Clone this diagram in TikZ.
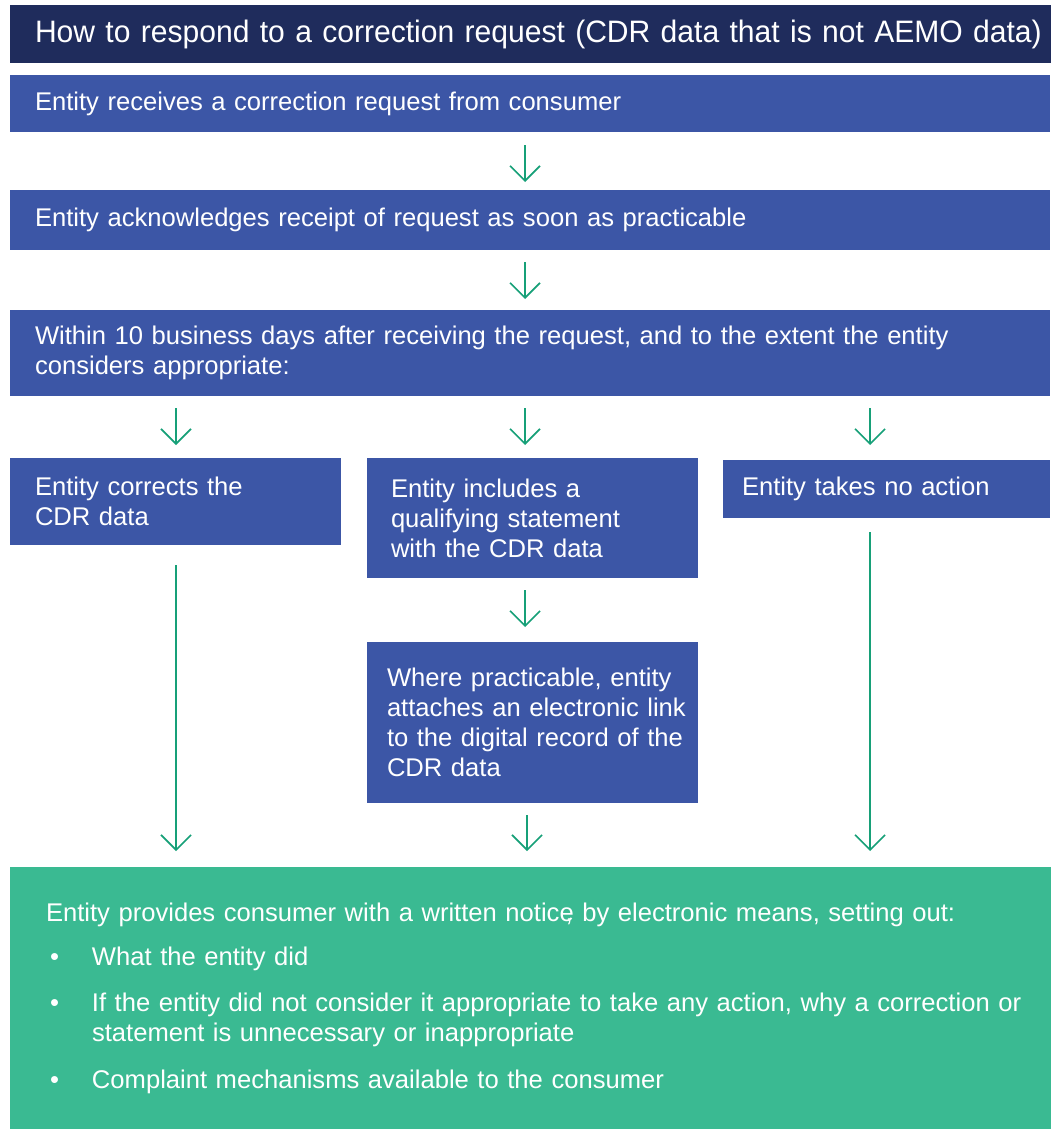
\documentclass[tikz,border=0pt]{standalone}
\usepackage{fontspec}
\setmainfont{Liberation Sans}
\newfontfamily\titlefont[FakeStretch=0.97]{Liberation Sans}
\usetikzlibrary{arrows.meta}
\definecolor{navy}{HTML}{1F2C5C}
\definecolor{boxblue}{HTML}{3C56A6}
\definecolor{arrgreen}{HTML}{17A078}
\definecolor{boxgreen}{HTML}{3ABA92}
\tikzset{
  bluebox/.style={fill=boxblue, text=white, draw=none, anchor=north west, align=left,
    font=\fontsize{25.6}{30}\selectfont, inner ysep=0pt, outer sep=0pt},
  flowarrow/.style={draw=arrgreen, line width=1.6pt, -{Straight Barb[length=15pt,width=30pt]}},
}
\begin{document}
\begin{tikzpicture}[x=1pt,y=-1pt]
\useasboundingbox (0,0) rectangle (1050,1129);
\fill[white] (0,0) rectangle (1050,1129);
% title
\node[fill=navy, text=white, anchor=north west, minimum width=1040pt, minimum height=58pt,
  inner xsep=25pt, text width=1020pt, align=left, outer sep=0pt,
  font=\titlefont\fontsize{31}{36}\selectfont] (title) at (10,5)
  {How to respond to a correction request (CDR data that is not AEMO data)};
% row boxes
\node[bluebox, minimum width=1040pt, minimum height=57pt, inner xsep=25pt, text width=990pt] (recv) at (10,75)
  {Entity receives a correction request from consumer};
\node[bluebox, minimum width=1040pt, minimum height=60pt, inner xsep=25pt, text width=990pt] (ack) at (10,190)
  {Entity acknowledges receipt of request as soon as practicable};
\node[bluebox, minimum width=1040pt, minimum height=86pt, inner xsep=25pt, text width=990pt] (within) at (10,310)
  {Within 10 business days after receiving the request, and to the extent the entity\\considers appropriate:};
% three options
\node[bluebox, minimum width=331pt, minimum height=87pt, inner xsep=25pt, text width=281pt] (corr) at (10,458)
  {Entity corrects the\\CDR data};
\node[bluebox, minimum width=331pt, minimum height=120pt, inner xsep=24pt, text width=283pt] (qual) at (367,458)
  {Entity includes a\\qualifying statement\\with the CDR data};
\node[bluebox, minimum width=327pt, minimum height=58pt, inner xsep=19pt, text width=289pt] (noact) at (723,460)
  {Entity takes no action};
\node[bluebox, minimum width=331pt, minimum height=161pt, inner xsep=20pt, text width=291pt] (link) at (367,642)
  {\mbox{Where practicable, entity}\\\mbox{attaches an electronic link}\\\mbox{to the digital record of the}\\\mbox{CDR data}};
% notice box
\node[fill=boxgreen, text=white, anchor=north west, align=left, minimum width=1040pt, minimum height=262pt,
  inner xsep=36pt, inner ysep=0pt, text width=1000pt, outer sep=0pt,
  font=\fontsize{25.6}{30}\selectfont] (notice) at (10,867)
  {Entity provides consumer with a written notice\llap{,\kern1pt} by electronic means, setting out:\\[14pt]
   \hspace*{4pt}\makebox[42pt][l]{\textbullet}What the entity did\\[16pt]
   \hspace*{4pt}\makebox[42pt][l]{\textbullet}If the entity did not consider it appropriate to take any action, why a correction or\\
   \hspace*{46pt}statement is unnecessary or inappropriate\\[17pt]
   \hspace*{4pt}\makebox[42pt][l]{\textbullet}Complaint mechanisms available to the consumer};
% arrow anchor coordinates
\coordinate (a1s) at (525,145); \coordinate (a1e) at (525,182);
\coordinate (a2s) at (525,262); \coordinate (a2e) at (525,299);
\coordinate (b1s) at (176,408); \coordinate (b1e) at (176,445);
\coordinate (b2s) at (525,408); \coordinate (b2e) at (525,445);
\coordinate (b3s) at (870,408); \coordinate (b3e) at (870,445);
\coordinate (c1s) at (176,565); \coordinate (c1e) at (176,851);
\coordinate (c2s) at (525,590); \coordinate (c2e) at (525,627);
\coordinate (c3s) at (527,815); \coordinate (c3e) at (527,851);
\coordinate (c4s) at (870,532); \coordinate (c4e) at (870,851);
\draw[flowarrow] (a1s) -- (a1e);
\draw[flowarrow] (a2s) -- (a2e);
\draw[flowarrow] (b1s) -- (b1e);
\draw[flowarrow] (b2s) -- (b2e);
\draw[flowarrow] (b3s) -- (b3e);
\draw[flowarrow] (c1s) -- (c1e);
\draw[flowarrow] (c2s) -- (c2e);
\draw[flowarrow] (c3s) -- (c3e);
\draw[flowarrow] (c4s) -- (c4e);
\end{tikzpicture}
\end{document}
